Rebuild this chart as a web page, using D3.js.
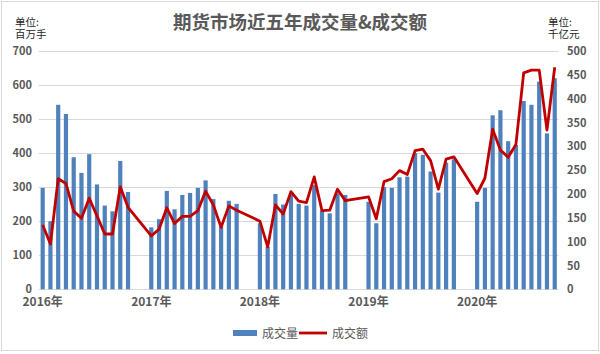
<!DOCTYPE html>
<html lang="zh">

<head>
    <meta charset="UTF-8">
    <title>期货市场近五年成交量&成交额</title>
    <style>
        body { margin: 0; background: #fff; }
        svg text { font-family: "Noto Sans CJK SC", "Noto Sans", sans-serif; }
    </style>
</head>

<body>
    <script src="https://cdn.jsdelivr.net/npm/d3@7/dist/d3.min.js"></script>
    <script>
        var years = ['2016', '2017', '2018', '2019', '2020'];
        // 成交量 (百万手), 每年按月
        var volume2016 = [298, 200, 542, 515, 388, 342, 397, 308, 246, 229, 377, 286];
        var volume2017 = [182, 206, 289, 235, 277, 283, 298, 320, 265, 185, 260, 251];
        var volume2018 = [194, 125, 280, 249, 277, 251, 246, 306, 231, 223, 282, 277];
        var volume2019 = [257, 194, 300, 298, 329, 331, 400, 395, 346, 284, 372, 382];
        var volume2020 = [257, 298, 511, 526, 435, 424, 553, 542, 610, 458, 620];
        // 成交额 (千亿元)
        var amount2016 = [135, 95, 232, 222, 164, 149, 191, 154, 116, 116, 215, 172];
        var amount2017 = [112, 126, 171, 138, 153, 153, 165, 206, 177, 130, 175, 166];
        var amount2018 = [143, 89, 177, 158, 205, 185, 182, 236, 165, 166, 210, 186];
        var amount2019 = [194, 148, 226, 232, 249, 241, 291, 294, 270, 210, 273, 278];
        var amount2020 = [201, 233, 336, 292, 277, 304, 454, 460, 460, 334, 466];
        var leftTicks = [0, 100, 200, 300, 400, 500, 600, 700];
        var rightTicks = [0, 50, 100, 150, 200, 250, 300, 350, 400, 450, 500];

        var volumes = [volume2016, volume2017, volume2018, volume2019, volume2020];
        var amounts = [amount2016, amount2017, amount2018, amount2019, amount2020];

        // 每年12个月后留两个空位
        var slots = [];
        var points = [];
        years.forEach(function (y, i) {
            volumes[i].forEach(function (v, m) {
                var key = y + '-' + (m + 1);
                slots.push(key);
                points.push({ key: key, year: y, month: m + 1, vol: v, amt: amounts[i][m] });
            });
            if (i < years.length - 1) {
                slots.push(y + '-b1');
                slots.push(y + '-b2');
            }
        });

        var W = 600, H = 354;
        var plotLeft = 38.8, plotRight = 558.6, plotTop = 51, plotBottom = 289.3;

        var svg = d3.select('body').append('svg').attr('width', W).attr('height', H);

        svg.append('rect').attr('x', 1.5).attr('y', 1.5).attr('width', W - 3).attr('height', 349)
            .attr('fill', '#fff').attr('stroke', '#d9d9d9');

        var x = d3.scaleBand().domain(slots).range([plotLeft, plotRight]).paddingInner(0.46).paddingOuter(0.23);
        var yL = d3.scaleLinear().domain([0, 700]).range([plotBottom, plotTop]);
        var yR = d3.scaleLinear().domain([0, 500]).range([plotBottom, plotTop]);

        // 网格线
        svg.append('g').selectAll('line').data(leftTicks).enter().append('line')
            .attr('x1', plotLeft).attr('x2', plotRight)
            .attr('y1', function (d) { return Math.round(yL(d)) + 0.5; })
            .attr('y2', function (d) { return Math.round(yL(d)) + 0.5; })
            .attr('stroke', '#d9d9d9').attr('stroke-width', 1);

        // 柱子
        svg.append('g').selectAll('rect').data(points).enter().append('rect')
            .attr('x', function (d) { return x(d.key); })
            .attr('width', x.bandwidth())
            .attr('y', function (d) { return yL(d.vol); })
            .attr('height', function (d) { return plotBottom - yL(d.vol); })
            .attr('fill', '#4f81bd');

        // 折线
        var line = d3.line()
            .x(function (d) { return x(d.key) + x.bandwidth() / 2; })
            .y(function (d) { return yR(d.amt); });
        svg.append('path').datum(points).attr('d', line)
            .attr('fill', 'none').attr('stroke', '#c00000').attr('stroke-width', 2.8)
            .attr('stroke-linejoin', 'round');

        // 坐标轴
        var axisStyle = function (g) {
            g.select('.domain').remove();
            g.selectAll('text').attr('fill', '#595959').attr('font-size', 11).attr('font-weight', 'bold');
        };
        svg.append('g').attr('transform', 'translate(' + 32 + ',0)')
            .call(d3.axisLeft(yL).tickValues(leftTicks).tickSize(0).tickPadding(0))
            .call(axisStyle);
        svg.append('g').attr('transform', 'translate(' + 567 + ',0)')
            .call(d3.axisRight(yR).tickValues(rightTicks).tickSize(0).tickPadding(0))
            .call(axisStyle);
        svg.append('g').attr('transform', 'translate(0,' + (plotBottom + 8) + ')')
            .call(d3.axisBottom(x).tickValues(years.map(function (y) { return y + '-1'; }))
                .tickSize(0).tickPadding(0).tickFormat(function (d) { return d.split('-')[0] + '年'; }))
            .call(axisStyle)
            .selectAll('text').attr('font-size', 12);

        // 标题与单位
        svg.append('text').attr('x', 300).attr('y', 29).attr('text-anchor', 'middle')
            .attr('font-size', 18.5).attr('fill', '#595959').attr('font-weight', 'bold')
            .text('期货市场近五年成交量&成交额');
        svg.append('text').attr('x', 15).attr('y', 26).attr('font-size', 10.5).attr('fill', '#262626').text('单位:');
        svg.append('text').attr('x', 15).attr('y', 38).attr('font-size', 10.5).attr('fill', '#262626').text('百万手');
        svg.append('text').attr('x', 548).attr('y', 26).attr('font-size', 10.5).attr('fill', '#262626').text('单位:');
        svg.append('text').attr('x', 548).attr('y', 38).attr('font-size', 10.5).attr('fill', '#262626').text('千亿元');

        // 图例
        var legend = svg.append('g');
        legend.append('rect').attr('x', 233).attr('y', 330).attr('width', 24).attr('height', 6).attr('fill', '#4f81bd');
        legend.append('text').attr('x', 262).attr('y', 337.5).attr('font-size', 12).attr('fill', '#595959').text('成交量');
        legend.append('line').attr('x1', 299).attr('x2', 327).attr('y1', 333).attr('y2', 333)
            .attr('stroke', '#c00000').attr('stroke-width', 2.8);
        legend.append('text').attr('x', 332).attr('y', 337.5).attr('font-size', 12).attr('fill', '#595959').text('成交额');
    </script>
</body>

</html>
